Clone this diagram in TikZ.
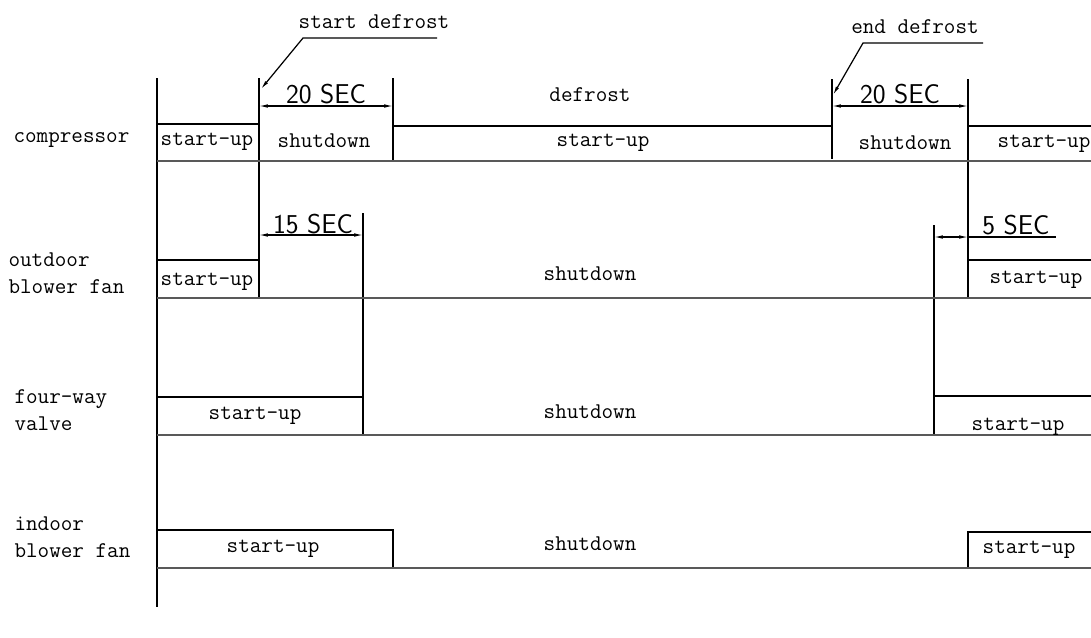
\documentclass[tikz,border=0pt]{standalone}
\usetikzlibrary{arrows.meta}
\begin{document}
\begin{tikzpicture}[x=0.02cm, y=-0.02cm, >=Latex, line width=0.6pt,
    lbl/.style={font=\ttfamily\fontsize{12.8}{15.4}\selectfont, inner sep=0pt},
    cell/.style={lbl, anchor=base},
    rowname/.style={lbl, anchor=west, align=left},
    dimtext/.style={font=\sffamily\fontsize{15.5}{16}\selectfont, inner sep=0pt, anchor=base},
    dimarrow/.style={{Latex[length=5pt,width=2pt]}-{Latex[length=5pt,width=2pt]}, line width=0.6pt},
    leader/.style={-{Latex[length=5pt,width=2pt]}, line width=0.7pt},
    baseline/.style={line width=1pt, black!65}]

  \useasboundingbox (0,0) rectangle (1091,637);

  % row names
  \node[rowname] (comp) at (13,140) {compressor};
  \node[rowname] (outfan) at (8,273.5) {outdoor\\blower fan};
  \node[rowname] (valve) at (14,410) {four-way\\valve};
  \node[rowname] (infan) at (14,537.5) {indoor\\blower fan};

  % time axis and switching lines
  \draw (157,78) -- (157,607);
  \draw (259,78) -- (259,298);
  \draw (393,78) -- (393,161);
  \draw (832,79) -- (832,159);
  \draw (968,79) -- (968,298);
  \draw (363,213) -- (363,435);
  \draw (934,225) -- (934,435);

  % compressor
  \draw (157,124) -- (259,124);
  \draw (393,126) -- (832,126);
  \draw (968,126) -- (1091,126);
  \draw[baseline] (157,161) -- (1091,161);
  \node[cell] (c1) at (207,145) {start-up};
  \node[cell] (c2) at (324,147) {shutdown};
  \node[cell] (c3) at (590,101) {defrost};
  \node[cell] (c4) at (603,146) {start-up};
  \node[cell] (c5) at (905,149) {shutdown};
  \node[cell] (c6) at (1044,147) {start-up};

  % outdoor blower fan
  \draw (157,260) -- (259,260);
  \draw (968,260) -- (1091,260);
  \draw[baseline] (157,298) -- (1091,298);
  \node[cell] (o1) at (207,285) {start-up};
  \node[cell] (o2) at (590,280) {shutdown};
  \node[cell] (o3) at (1036,283) {start-up};

  % four-way valve
  \draw (157,397) -- (363,397);
  \draw (934,396) -- (1091,396);
  \draw[baseline] (157,435) -- (1091,435);
  \node[cell] (v1) at (255,419) {start-up};
  \node[cell] (v2) at (590,418) {shutdown};
  \node[cell] (v3) at (1018,430) {start-up};

  % indoor blower fan
  \draw (157,530) -- (393,530) -- (393,568);
  \draw (968,568) -- (968,532) -- (1091,532);
  \draw[baseline] (157,568) -- (1091,568);
  \node[cell] (i1) at (273,552) {start-up};
  \node[cell] (i2) at (590,550) {shutdown};
  \node[cell] (i3) at (1029,553) {start-up};

  % dimensions
  \draw[dimarrow] (259,106) -- (393,106);
  \node[dimtext] (d1) at (326,103) {20 SEC};
  \draw[dimarrow] (832,106) -- (968,106);
  \node[dimtext] (d2) at (900,103) {20 SEC};
  \draw[dimarrow] (259,235) -- (363,235);
  \node[dimtext] (d3) at (313,233) {15 SEC};
  \draw[dimarrow] (934,237) -- (968,237);
  \draw (968,237) -- (1056,237);
  \node[dimtext] (d4) at (1016,234) {5 SEC};

  % leaders
  \node[lbl, anchor=base] (sdef) at (374,28) {start defrost};
  \draw[leader] (437,38) -- (303,38) -- (261,89);
  \node[lbl, anchor=base] (edef) at (915,33) {end defrost};
  \draw[leader] (983,43) -- (863,43) -- (833,95);
\end{tikzpicture}
\end{document}
